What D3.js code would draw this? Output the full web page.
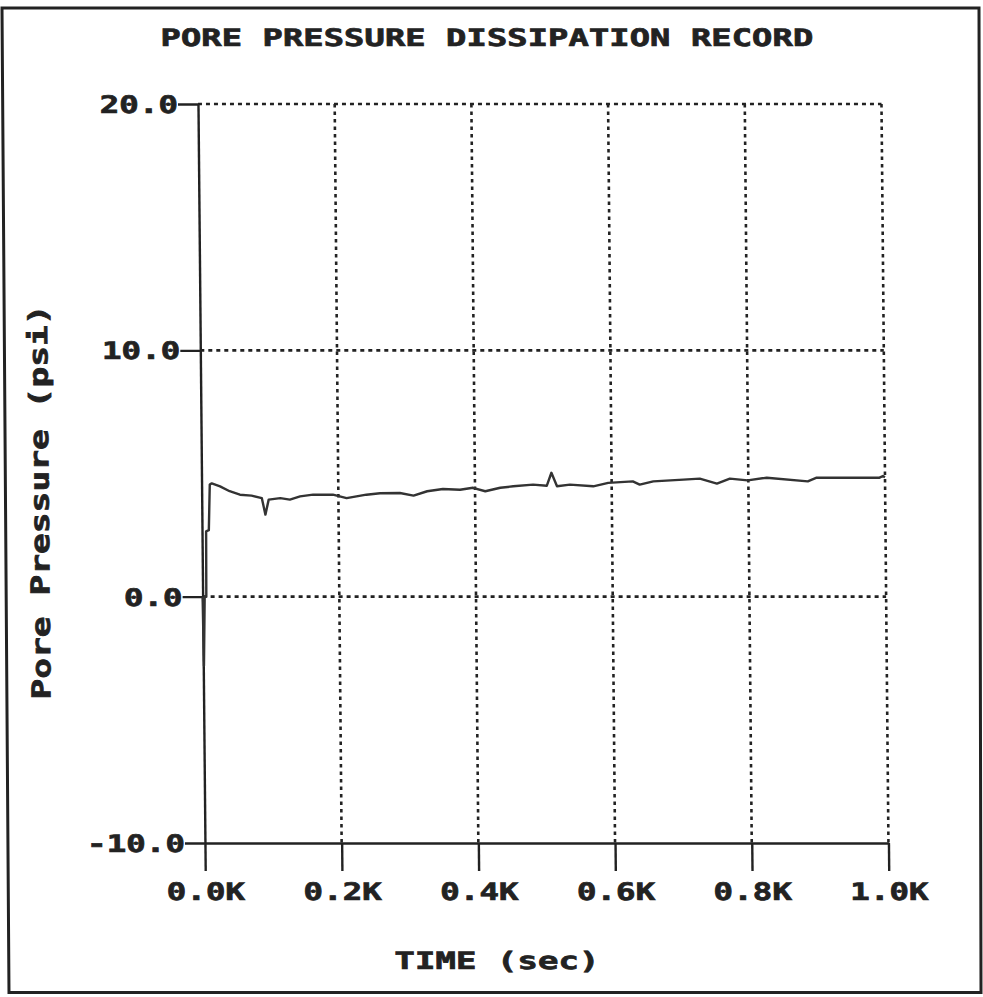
<!DOCTYPE html>
<html>
<head>
<meta charset="utf-8">
<script src="https://cdn.jsdelivr.net/npm/d3@7"></script>
<style>
  body { margin: 0; background: #fff; }
  text { font-family: "DejaVu Sans Mono", monospace; font-weight: bold; fill: #222; stroke: #222; stroke-width: 0.7px; }
</style>
</head>
<body>
<div id="root"></div>
<script>
"use strict";

// pore pressure record
const timeSec = [0, 1, 3, 5.4, 6, 10, 12, 15, 27, 41, 56, 73, 88, 93, 98, 115, 129, 144, 163, 192,
  212, 241, 261, 290, 310, 330, 353, 378, 397, 415, 437, 456, 485, 505, 512, 520, 539, 573, 595,
  631, 641, 661, 705, 729, 754, 773, 799, 827, 887, 900, 992, 997, 1000];
const pressurePsi = [0, -2.8, 0, 0, 2.65, 2.7, 4.55, 4.6, 4.48, 4.28, 4.14, 4.1, 4.0, 3.33, 3.94, 4.0,
  3.94, 4.07, 4.14, 4.14, 4.0, 4.14, 4.2, 4.21, 4.1, 4.28, 4.37, 4.34, 4.42, 4.28, 4.42, 4.48, 4.55,
  4.5, 5.03, 4.48, 4.55, 4.48, 4.62, 4.68, 4.55, 4.68, 4.75, 4.79, 4.59, 4.79, 4.72, 4.83, 4.68,
  4.83, 4.83, 4.9, 4.85];

const xTicks = [0, 200, 400, 600, 800, 1000];
const xTickLabels = ["0.0K", "0.2K", "0.4K", "0.6K", "0.8K", "1.0K"];
const yTicks = [-10, 0, 10, 20];
const yTickLabels = ["-10.0", "0.0", "10.0", "20.0"];

const width = 983;
const height = 997;
const plot = { left: 197, right: 880.5, top: 104, bottom: 843 };
const charW = 19.6; // wide pixel-font look
const ink = "#222";

const data = timeSec.map((t, i) => [t, pressurePsi[i]]);

const ScaleX = d3.scaleLinear().domain([0, 1000]).range([plot.left, plot.right]);
const ScaleY = d3.scaleLinear().domain([-10, 20]).range([plot.bottom, plot.top]);

const svg = d3.select("#root")
  .append("svg")
  .attr("width", width)
  .attr("height", height);

svg.append("rect").attr("width", width).attr("height", height).attr("fill", "#fff");

// page frame (scan is a little out of square)
svg.append("path")
  .attr("d", "M2,8 L979,8 L981,992.5 L9,992.5 Z")
  .attr("fill", "none")
  .attr("stroke", ink)
  .attr("stroke-width", 3);

// the scanned sheet is sheared slightly
const g = svg.append("g").attr("transform", "skewX(0.54)");

// dotted grid
g.append("g")
  .selectAll("line")
  .data(yTicks.filter((d) => d > -10))
  .join("line")
  .attr("x1", ScaleX(0))
  .attr("x2", ScaleX(1000))
  .attr("y1", (d) => ScaleY(d))
  .attr("y2", (d) => ScaleY(d))
  .attr("stroke", ink)
  .attr("stroke-width", 2.6)
  .attr("stroke-dasharray", "4,4");

g.append("g")
  .selectAll("line")
  .data(xTicks.filter((d) => d > 0))
  .join("line")
  .attr("x1", (d) => ScaleX(d))
  .attr("x2", (d) => ScaleX(d))
  .attr("y1", ScaleY(20))
  .attr("y2", ScaleY(-10))
  .attr("stroke", ink)
  .attr("stroke-width", 2.6)
  .attr("stroke-dasharray", "3.5,4");

// axes
const xAxis = d3.axisBottom(ScaleX)
  .tickValues(xTicks)
  .tickSize(28)
  .tickSizeOuter(0)
  .tickFormat((d, i) => xTickLabels[i]);

const xg = g.append("g")
  .attr("transform", `translate(0, ${plot.bottom})`)
  .call(xAxis);

const yAxis = d3.axisLeft(ScaleY)
  .tickValues(yTicks)
  .tickSize(20)
  .tickSizeOuter(0)
  .tickPadding(0)
  .tickFormat((d, i) => yTickLabels[i]);

const yg = g.append("g")
  .attr("transform", `translate(${plot.left}, 0)`)
  .call(yAxis);

[xg, yg].forEach((a) => {
  a.select(".domain").attr("stroke", ink).attr("stroke-width", 2.4);
  a.selectAll(".tick line").attr("stroke", ink).attr("stroke-width", 2.4);
  a.selectAll(".tick text")
    .attr("font-size", 24)
    .attr("fill", ink)
    .attr("lengthAdjust", "spacingAndGlyphs")
    .attr("textLength", function () { return this.textContent.length * charW; });
});

xg.selectAll(".tick text").attr("y", 57).attr("dy", null);
yg.selectAll(".tick text").attr("x", -20).attr("dy", 8.5);

// record line
const line = d3.line()
  .x((d) => ScaleX(d[0]))
  .y((d) => ScaleY(d[1]));

g.append("path")
  .datum(data)
  .attr("fill", "none")
  .attr("stroke", "#333")
  .attr("stroke-width", 2.4)
  .attr("stroke-linejoin", "round")
  .attr("d", line);

// titles
const title = "PORE PRESSURE DISSIPATION RECORD";
g.append("text")
  .attr("x", 486.5)
  .attr("y", 46)
  .attr("text-anchor", "middle")
  .attr("font-size", 24)
  .attr("lengthAdjust", "spacingAndGlyphs")
  .attr("textLength", title.length * 20.4)
  .text(title);

const xTitle = "TIME (sec)";
g.append("text")
  .attr("x", 488)
  .attr("y", 969)
  .attr("text-anchor", "middle")
  .attr("font-size", 24)
  .attr("lengthAdjust", "spacingAndGlyphs")
  .attr("textLength", xTitle.length * 20.5)
  .text(xTitle);

const yTitle = "Pore Pressure (psi)";
g.append("text")
  .attr("transform", "translate(44, 502) rotate(-90)")
  .attr("text-anchor", "middle")
  .attr("font-size", 26)
  .attr("lengthAdjust", "spacingAndGlyphs")
  .attr("textLength", yTitle.length * 20.8)
  .text(yTitle);
</script>
</body>
</html>
